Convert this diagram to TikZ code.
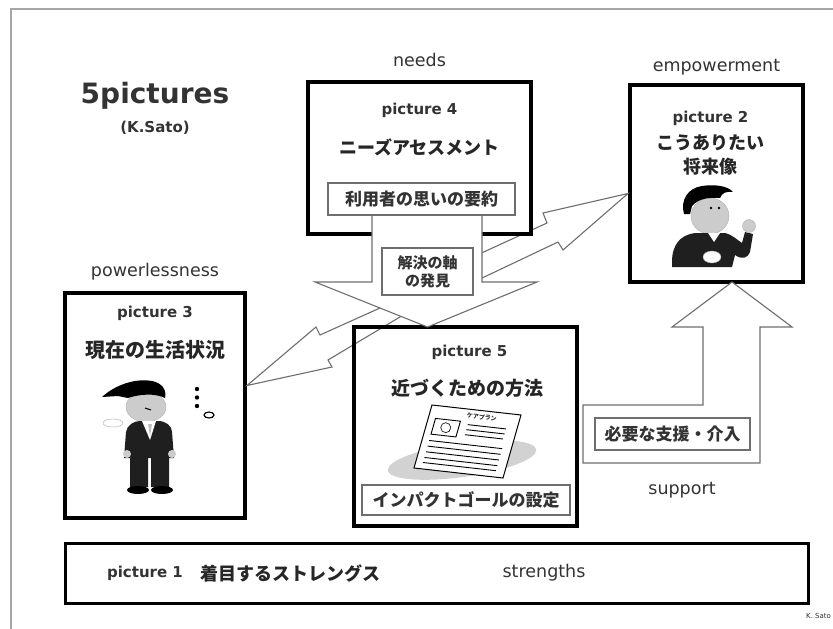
\documentclass[tikz,border=0pt]{standalone}
\usepackage{fontspec}
\setmainfont{DejaVu Sans}
\newfontfamily\jpfont{Noto Sans CJK JP}
\usetikzlibrary{positioning,calc}
\definecolor{ink}{HTML}{333333}
\definecolor{linegray}{HTML}{6E6E6E}
\tikzstyle{picbox}=[rectangle, draw=black, line width=4pt, fill=white,
                    outer sep=0pt, inner sep=0pt]
\tikzstyle{subbox}=[rectangle, draw=linegray, line width=1.3pt, fill=white,
                    outer sep=0pt, inner sep=0pt, text=ink,
                    font=\jpfont\bfseries\fontsize{17}{20}\selectfont]
\tikzstyle{pnum}=[text=ink, inner sep=0pt, font=\bfseries\fontsize{15}{18}\selectfont]
\tikzstyle{ptitle}=[text=black!85, inner sep=0pt, font=\jpfont\bfseries\fontsize{18}{22}\selectfont]
\tikzstyle{outlabel}=[text=ink, inner sep=0pt, font=\fontsize{17.5}{20}\selectfont]
\tikzstyle{fatarrow}=[draw=linegray, line width=1.1pt, fill=white, line join=miter]
\tikzstyle{suit}=[fill=black!88]
\tikzstyle{skin}=[fill=gray!40]

\begin{document}
\begin{tikzpicture}[x=1pt, y=-1pt]
\useasboundingbox (0,0) rectangle (833,629);
\draw[gray!70, line width=1.5pt] (11,640) -- (11,9) -- (845,9);

\node (TITLE) [text=ink, inner sep=0pt, font=\bfseries\fontsize{28}{32}\selectfont] at (155,96) {5pictures};
\node (AUTHOR) [text=ink, inner sep=0pt, font=\bfseries\fontsize{15}{18}\selectfont] at (155,128) {(K.Sato)};

\node (PIC2) [picbox, minimum width=173pt, minimum height=197pt] at (716.5,183.5) {};
\node (PIC3) [picbox, minimum width=180pt, minimum height=225pt] at (155,405.5) {};

\coordinate (LTIP) at ($(PIC3.east)+(2,-20)$);
\coordinate (RTIP) at ($(PIC2.west)+(-2,10)$);
\draw[fatarrow] (420,290) -- (320,335) -- (316,327) -- (LTIP) -- (332,367) -- (328,360) -- (420,305) -- cycle;
\draw[fatarrow] (440,272) -- (547,223) -- (543,213) -- (RTIP) -- (563,250) -- (558,242) -- (440,298) -- cycle;

\node (PIC4) [picbox, minimum width=223pt, minimum height=152pt] at (419.5,158) {};
\node (PIC5) [picbox, fill=none, minimum width=223pt, minimum height=199pt] at (465.5,426.5) {};

\coordinate (DTIP) at ($(PIC5.north)+(-38,0)$);
\draw[fatarrow] (372,215) -- (482,215) -- (482,282) -- (537,282) -- (DTIP) -- (315,282) -- (372,282) -- cycle;

\node (PIC4N) [pnum] at ($(PIC4.north)+(0,28)$) {picture 4};
\node (PIC4T) [ptitle] at ($(PIC4.north)+(0,65)$) {ニーズアセスメント};
\node (WISH) [subbox, minimum width=187pt, minimum height=32pt] at ($(PIC4.north)+(2,117)$) {利用者の思いの要約};
\node (AXIS) [subbox, align=center, minimum width=91pt, minimum height=47pt,
              font=\jpfont\bfseries\fontsize{15}{18}\selectfont] at (427.5,271.5) {解決の軸\\の発見};

\node (PIC2N) [pnum] at ($(PIC2.north)+(-6,33)$) {picture 2};
\node (PIC2T) [ptitle] at ($(PIC2.north)+(-6,58)$) {こうありたい};
\node (PIC2U) [ptitle] at ($(PIC2.north)+(-6,82)$) {将来像};

\node (PIC3N) [pnum] at ($(PIC3.north)+(0,20)$) {picture 3};
\node (PIC3T) [ptitle, font=\jpfont\bfseries\fontsize{20}{24}\selectfont] at ($(PIC3.north)+(0,57)$) {現在の生活状況};

\node (PIC5N) [pnum] at ($(PIC5.north)+(4,25)$) {picture 5};
\node (PIC5T) [ptitle, font=\jpfont\bfseries\fontsize{19}{23}\selectfont] at ($(PIC5.north)+(2,61)$) {近づくための方法};
\node (GOAL) [subbox, minimum width=208pt, minimum height=30pt] at ($(PIC5.north)+(0.5,173)$) {インパクトゴールの設定};

\coordinate (UTIP) at ($(PIC2.south)+(15.5,0)$);
\draw[fatarrow] (UTIP) -- (792,327) -- (760,327) -- (760,463) -- (583,463) -- (583,405) -- (703,405) -- (703,327) -- (672,327) -- cycle;
\node (AID) [subbox, minimum width=155pt, minimum height=32pt] at (672.5,434) {必要な支援・介入};

\node (PIC1) [picbox, line width=3pt, minimum width=743pt, minimum height=60pt] at (436.5,573) {};
\node (PIC1N) [pnum] at ($(PIC1.west)+(80,0)$) {picture 1};
\node (PIC1T) [ptitle] at ($(PIC1.west)+(225,0)$) {着目するストレングス};
\node (STR) [outlabel] at ($(PIC1.west)+(479,0)$) {strengths};

\node (NEEDS) [outlabel] at ($(PIC4.north)+(0,-22)$) {needs};
\node (EMPOW) [outlabel] at ($(PIC2.north)+(0,-18)$) {empowerment};
\node (POWERL) [outlabel] at ($(PIC3.north)+(0,-21)$) {powerlessness};
\node (SUPP) [outlabel] at ($(AID.center)+(9.5,56)$) {support};
\node (SIGN) [anchor=west, text=ink, inner sep=0pt, font=\fontsize{7}{8}\selectfont] at (806,616) {K. Sato};

% man in picture 3
\filldraw[skin, draw=gray!60] (146,407) ellipse (20pt and 15pt);
\fill[black] (102,397) .. controls (115,385) and (135,378) .. (152,381)
  .. controls (162,383) and (167,390) .. (165,398) .. controls (155,393) and (140,394) .. (128,398) -- (118,396) -- cycle;
\draw[black, line width=1pt] (145,408) -- (151,410);
\filldraw[fill=white, draw=gray!70] (113,423) ellipse (10pt and 4pt);
\fill[suit] (126,432) .. controls (127,425) and (134,421) .. (140,421) -- (158,421)
  .. controls (166,421) and (172,426) .. (172,432) -- (174,458) -- (124,458) -- cycle;
\fill[white] (142,421) -- (150,440) -- (156,421) -- cycle;
\fill[gray!50] (148,424) -- (150,436) -- (152,424) -- cycle;
\fill[skin] (127,454) circle (4pt) (172,454) circle (4pt);
\fill[suit] (130,458) rectangle (148,487) (151,458) rectangle (169,487);
\fill[black] (138,490) ellipse (11pt and 4pt) (162,490) ellipse (11pt and 4pt);
\fill[black] (197,389) circle (2.2pt) (197,397.5) circle (2.2pt) (197,406) circle (2.2pt);
\draw[black, line width=1.2pt] (209,415) ellipse (5pt and 3pt);

% man in picture 2
\filldraw[skin, draw=gray!60] (710,216) ellipse (19pt and 18pt);
\fill[black] (684,214) .. controls (680,200) and (688,188) .. (702,186)
  .. controls (715,184) and (728,186) .. (733,192) .. controls (726,191) and (722,193) .. (720,198)
  .. controls (708,197) and (698,199) .. (692,206) -- (690,214) -- cycle;
\fill[black] (711,208) circle (1.3pt) (719,208) circle (1.3pt);
\fill[suit] (672,262) .. controls (672,245) and (680,235) .. (695,233) -- (725,233)
  .. controls (733,235) and (737,240) .. (742,243) -- (745,232) -- (753,234) -- (750,252)
  .. controls (748,258) and (742,260) .. (735,255) -- (732,267) -- (672,267) -- cycle;
\filldraw[skin, draw=gray!60] (749,226) circle (6.5pt);
\fill[white] (708,233) -- (714,242) -- (720,233) -- cycle;
\filldraw[fill=white, draw=gray!70] (712,257) ellipse (9pt and 6pt);

% care plan sheet in picture 5
\fill[gray!35, rotate around={8:(462,460)}] (462,460) ellipse (75pt and 17pt);
\begin{scope}[shift={(414,468)}, x={(89pt,-10pt)}, y={(18pt,63pt)}]
  \filldraw[fill=white, draw=black, line width=1pt] (0,0) -- (1,0) -- (1,1) -- (0,1) -- cycle;
  \draw[line width=0.9pt] (0.08,0.55) -- (0.36,0.55) -- (0.36,0.8) -- (0.08,0.8) -- cycle;
  \draw[line width=0.8pt, gray!40!black] (0.22,0.675) circle (5pt);
  \foreach \v in {0.76,0.68,0.60} \draw[line width=0.9pt] (0.45,\v) -- (0.88,\v);
  \foreach \v in {0.45,0.36,0.27,0.18,0.10} \draw[line width=0.9pt] (0.08,\v) -- (0.9,\v);
  \node[rotate=-7, text=ink, font=\jpfont\bfseries\fontsize{6}{7}\selectfont] at (0.58,0.9) {ケアプラン};
\end{scope}

\end{tikzpicture}
\end{document}
